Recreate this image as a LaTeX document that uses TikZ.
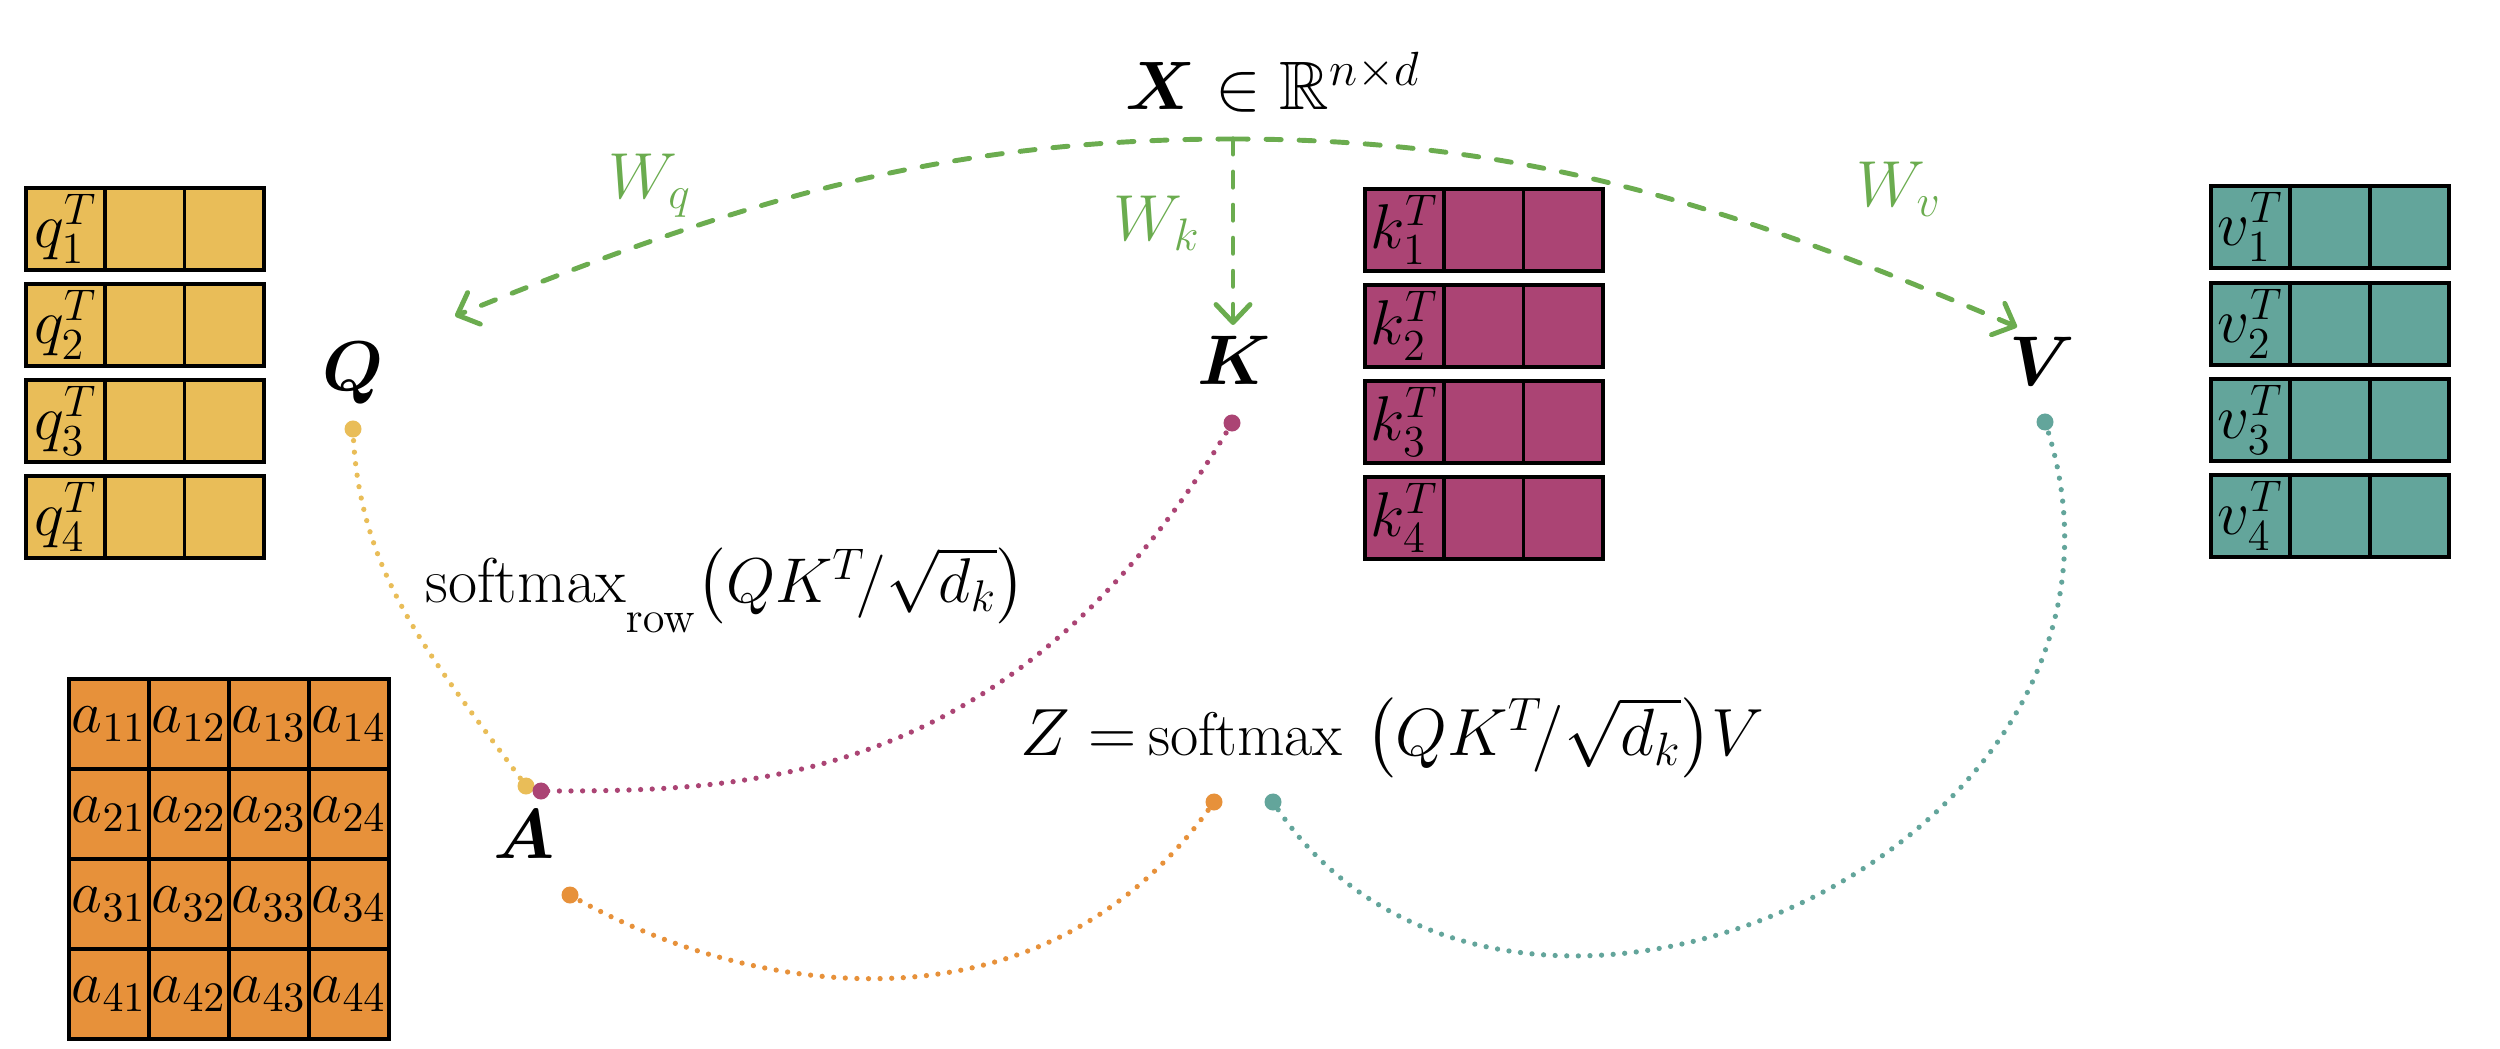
\RequirePackage{fix-cm}
\documentclass[tikz,border=0pt]{standalone}
\usepackage{amsmath,amssymb,bm}
\usetikzlibrary{arrows.meta}
\definecolor{qcol}{RGB}{233,189,88}
\definecolor{kcol}{RGB}{171,68,116}
\definecolor{vcol}{RGB}{99,165,155}
\definecolor{acol}{RGB}{231,145,58}
\definecolor{wgreen}{RGB}{107,172,79}
\begin{document}
\begin{tikzpicture}[x=0.01cm,y=0.01cm,
  cell/.style={draw=black, line width=1.1pt, minimum width=0.793cm, minimum height=0.82cm, inner sep=0pt, anchor=north west, font=\fontsize{18}{20}\selectfont},
  acell/.style={cell, minimum width=0.80cm, minimum height=0.90cm, fill=acol, font=\fontsize{17}{20}\selectfont},
  lbl/.style={font=\fontsize{20}{24}\selectfont, inner sep=0pt, anchor=base},
  wlbl/.style={font=\fontsize{18.5}{22}\selectfont, text=wgreen, inner sep=0pt},
  fml/.style={font=\fontsize{18}{21}\selectfont, inner sep=0pt, anchor=base west},
  enddot/.style={circle, fill=#1, inner sep=0pt, minimum size=0.17cm},
  dotline/.style={draw=#1, line width=1.5pt, line cap=round, dash pattern=on 0pt off 3.3pt},
  proj/.style={draw=wgreen, line width=1.4pt, line cap=round, dash pattern=on 4.3pt off 5.1pt, -{Straight Barb[round,length=1.8mm,width=3.4mm]}},
]
\useasboundingbox (0,0) rectangle (2500,-1049);

% Q rows
\foreach \r/\y in {1/186,2/282,3/378,4/474} {
  \node[cell, fill=qcol] (q\r-a) at (24,-\y) {$q_{\r}^T$};
  \node[cell, fill=qcol] (q\r-b) at (103.3,-\y) {};
  \node[cell, fill=qcol] (q\r-c) at (182.6,-\y) {};
}
% K rows
\foreach \r/\y in {1/187,2/283,3/379,4/475} {
  \node[cell, fill=kcol] (k\r-a) at (1363,-\y) {$k_{\r}^T$};
  \node[cell, fill=kcol] (k\r-b) at (1442.3,-\y) {};
  \node[cell, fill=kcol] (k\r-c) at (1521.6,-\y) {};
}
% V rows
\foreach \r/\y in {1/184,2/281,3/377,4/473} {
  \node[cell, fill=vcol] (v\r-a) at (2209,-\y) {$v_{\r}^T$};
  \node[cell, fill=vcol] (v\r-b) at (2288.3,-\y) {};
  \node[cell, fill=vcol] (v\r-c) at (2367.6,-\y) {};
}
% A matrix
\foreach \i/\y in {1/677,2/767,3/857,4/947} {
  \foreach \j/\x in {1/67,2/147,3/227,4/307} {
    \node[acell] (a\i\j) at (\x,-\y) {$a_{\i\j}$};
  }
}

% labels
\node[lbl, anchor=base west, font=\fontsize{19.5}{24}\selectfont] (X) at (1125,-110) {$\bm{X} \in \mathbb{R}^{n\times d}$};
\node[lbl] (Q) at (353,-390) {$\bm{Q}$};
\node[lbl] (K) at (1234,-385) {$\bm{K}$};
\node[lbl] (V) at (2042,-386) {$\bm{V}$};
\node[lbl] (A) at (524,-858) {$\bm{A}$};
\node[wlbl] (Wq) at (650,-186) {$W_q$};
\node[wlbl] (Wk) at (1157,-223) {$W_k$};
\node[wlbl] (Wv) at (1899,-189) {$W_v$};
\node[fml] (SM) at (425,-602) {$\mathrm{softmax}_{\lower6pt\hbox{$\scriptstyle\mathrm{row}$}}\!\left(QK^T\!/\sqrt{d_k}\right)$};
\node[fml, font=\fontsize{19}{22}\selectfont] (Z) at (1020,-755) {$Z\;{=}\,\text{\fontsize{17.5}{20}\selectfont softmax}\,\left(QK^T\!/\sqrt{d_k}\right)\!V$};

% projection arrows
\coordinate (src) at (1233,-139);
\coordinate (qtip) at (455,-316);
\coordinate (ktip) at (1233,-325);
\coordinate (vtip) at (2017,-327);
\draw[proj] (src) .. controls (933,-139) and (733,-204) .. (qtip);
\draw[proj] (src) -- (ktip);
\draw[proj] (src) .. controls (1533,-139) and (1741,-210) .. (vtip);

% dotted connectors
\coordinate (Qd) at (353,-429);
\coordinate (Kd) at (1232,-423);
\coordinate (Vd) at (2045,-422);
\coordinate (Ay) at (526,-786);
\coordinate (Am) at (541,-791);
\coordinate (Ao) at (570,-895);
\coordinate (Zo) at (1214,-802);
\coordinate (Zt) at (1273,-802);
\draw[dotline=qcol] (Qd) .. controls (358,-579) and (438,-665) .. (Ay);
\draw[dotline=kcol] (Kd) .. controls (1014,-791) and (742,-791) .. (Am);
\draw[dotline=vcol] (Vd) .. controls (2189,-849) and (1502,-1154) .. (Zt);
\draw[dotline=acol] (Ao) .. controls (743,-995) and (1042,-1048) .. (Zo);

\node[enddot=qcol] (Qdot) at (Qd) {};
\node[enddot=kcol] (Kdot) at (Kd) {};
\node[enddot=vcol] (Vdot) at (Vd) {};
\node[enddot=qcol] (Aydot) at (Ay) {};
\node[enddot=kcol] (Amdot) at (Am) {};
\node[enddot=acol] (Aodot) at (Ao) {};
\node[enddot=acol] (Zodot) at (Zo) {};
\node[enddot=vcol] (Ztdot) at (Zt) {};
\end{tikzpicture}
\end{document}
